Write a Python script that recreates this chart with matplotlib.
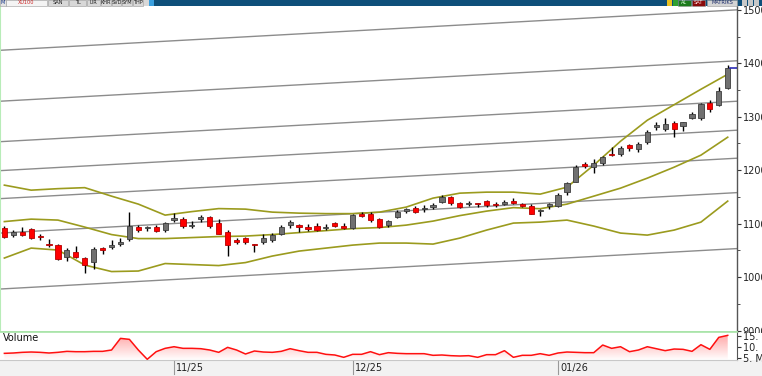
import numpy as np
import matplotlib
matplotlib.use("Agg")
import matplotlib.pyplot as plt
from matplotlib.patches import Rectangle
from matplotlib.colors import LinearSegmentedColormap
from matplotlib import transforms

# ---------------- data ----------------
opens = [10922, 10785, 10836, 10898, 10767, 10617, 10598, 10369, 10462, 10361,
         10286, 10537, 10561, 10617, 10705, 10941, 10911, 10941, 10879, 11066,
         11084, 10959, 11079, 11116, 11015, 10836, 10692, 10724, 10623, 10649,
         10692, 10804, 10972, 10972, 10935, 10959, 10911, 11004, 10954, 10911,
         11172, 11172, 11084, 10972, 11116, 11234, 11296, 11277, 11309, 11408,
         11501, 11378, 11359, 11389, 11421, 11359, 11370, 11421, 11365, 11333,
         11243, 11327, 11337, 11583, 11782, 12112, 12062, 12125, 12312, 12294,
         12468, 12387, 12518, 12809, 12767, 12892, 12828, 12967, 12967, 13266,
         13215, 13546]
highs = [10959, 10879, 10929, 10922, 10798, 10705, 10611, 10537, 10585, 10380,
         10555, 10567, 10692, 10724, 11209, 10972, 10959, 10972, 11034, 11191,
         11128, 11047, 11159, 11146, 11084, 10879, 10735, 10754, 10627, 10798,
         10817, 10972, 11066, 10985, 10985, 11015, 10985, 11034, 11004, 11172,
         11221, 11221, 11109, 11066, 11253, 11296, 11333, 11346, 11378, 11533,
         11520, 11408, 11421, 11393, 11440, 11408, 11440, 11471, 11378, 11359,
         11271, 11383, 11570, 11782, 12094, 12155, 12206, 12262, 12425, 12455,
         12499, 12518, 12748, 12903, 12967, 12916, 12906, 13090, 13253, 13309,
         13557, 13963]
lows = [10735, 10742, 10772, 10705, 10692, 10567, 10318, 10299, 10361, 10069,
        10144, 10430, 10524, 10585, 10679, 10847, 10860, 10847, 10847, 11034,
        10911, 10911, 11034, 10911, 10810, 10393, 10611, 10617, 10473, 10611,
        10660, 10785, 10911, 10847, 10860, 10866, 10873, 10941, 10898, 10892,
        11122, 11034, 10922, 10941, 11097, 11191, 11191, 11221, 11271, 11378,
        11346, 11296, 11333, 11314, 11314, 11314, 11346, 11359, 11303, 11172,
        11141, 11271, 11309, 11533, 11770, 12032, 11939, 12094, 12271, 12267,
        12361, 12342, 12481, 12748, 12729, 12623, 12729, 12953, 12935, 13090,
        13202, 13527]
closes = [10754, 10847, 10785, 10735, 10742, 10593, 10337, 10505, 10380, 10225,
          10518, 10511, 10598, 10649, 10959, 10879, 10916, 10866, 11004, 11109,
          10959, 10978, 11116, 10959, 10810, 10598, 10660, 10649, 10598, 10735,
          10785, 10941, 11023, 10929, 10903, 10885, 10941, 10959, 10916, 11159,
          11141, 11066, 10941, 11047, 11221, 11266, 11221, 11284, 11346, 11501,
          11378, 11314, 11378, 11370, 11346, 11340, 11397, 11378, 11327, 11178,
          11262, 11365, 11542, 11752, 12062, 12081, 12137, 12249, 12281, 12417,
          12406, 12499, 12716, 12841, 12873, 12767, 12903, 13060, 13247, 13153,
          13477, 13912]
volume_m = [6.98, 7.14, 7.44, 7.59, 7.44, 7.14, 7.44, 7.89, 7.74, 7.74,
            7.89, 7.89, 8.5, 13.8, 13.35, 8.5, 4.26, 7.74, 9.26, 10.0,
            9.26, 9.26, 9.1, 8.5, 7.44, 9.71, 8.5, 6.68, 8.05, 7.59,
            7.44, 7.89, 9.1, 8.2, 7.44, 7.44, 6.53, 6.23, 5.17, 6.53,
            6.53, 7.74, 6.38, 7.29, 6.98, 6.83, 6.83, 6.83, 6.08, 6.23,
            5.92, 5.77, 5.92, 5.17, 6.38, 6.38, 8.2, 5.17, 6.08, 6.08,
            6.83, 6.08, 7.14, 7.59, 7.44, 7.29, 7.29, 10.77, 9.26, 10.0,
            7.74, 8.5, 10.0, 9.1, 8.2, 8.95, 8.8, 7.89, 10.92, 8.8,
            14.26, 15.17]

band_idx = list(range(0, 82, 3))
upper_band = [11720, 11626, 11654, 11673, 11514, 11365, 11159, 11225, 11281, 11271,
              11215, 11196, 11187, 11187, 11215, 11309, 11477, 11570, 11589, 11589,
              11552, 11682, 12094, 12542, 12935, 13225, 13514, 13795]
middle_band = [11038, 11084, 11066, 10935, 10795, 10720, 10720, 10739, 10758, 10767,
               10795, 10832, 10869, 10907, 10926, 10972, 11047, 11150, 11234, 11299,
               11279, 11365, 11514, 11664, 11851, 12056, 12281, 12617]
lower_band = [10356, 10542, 10505, 10225, 10103, 10113, 10253, 10234, 10215, 10271,
              10393, 10486, 10542, 10598, 10636, 10636, 10617, 10729, 10879, 11010,
              11028, 11066, 10954, 10823, 10785, 10879, 11028, 11421]

channel_start = [14243, 13290, 12533, 11991, 11467, 10823, 9776]
channel_end = [15000, 14047, 13290, 12748, 12224, 11580, 10533]

month_ticks = [19, 39, 62]
month_labels = ["11/25", "12/25", "01/26"]
price_ticks = [9000, 10000, 11000, 12000, 13000, 14000, 15000]
vol_ticks = [5, 10, 15]
vol_labels = ["5. M", "10. M", "15. M"]

# ---------------- layout ----------------
W, H = 762, 376
fig = plt.figure(figsize=(W / 100, H / 100), dpi=100)
fig.patch.set_facecolor("white")


def fr(x0, y0, x1, y1):
    return [x0 / W, 1 - y1 / H, (x1 - x0) / W, (y1 - y0) / H]


XMIN, XMAX = -0.49, 82.04
ax = fig.add_axes(fr(0, 6, 737, 332))
axv = fig.add_axes(fr(0, 332, 737, 360))
ax.set_zorder(0)
axv.set_zorder(2)

n = len(closes)
x = np.arange(n)

# channel lines
for s, e in zip(channel_start, channel_end):
    ax.plot([XMIN, XMAX], [s, e], color="#8c8c8c", lw=1.0, zorder=1)

# bollinger bands
for band in (upper_band, middle_band, lower_band):
    ax.plot(band_idx, band, color="#9b9b1e", lw=1.2, zorder=2)

# candles
bw = 0.58
for i in range(n):
    o, h, l, c = opens[i], highs[i], lows[i], closes[i]
    ax.plot([i, i], [l, h], color="black", lw=1.0, zorder=3, solid_capstyle="butt")
    up = c >= o
    fc = "#707070" if up else "#ff0000"
    ec = "#3c3c3c" if up else "#b40000"
    bottom = min(o, c)
    height = max(abs(c - o), 18)
    ax.add_patch(Rectangle((i - bw / 2, bottom), bw, height, facecolor=fc,
                           edgecolor=ec, lw=0.6, zorder=4))

# last price marker
ax.plot([n - 1 + 0.3, XMAX], [closes[-1], closes[-1]], color="#2a2ab4", lw=1.2, zorder=5)

ax.set_xlim(XMIN, XMAX)
ax.set_ylim(8972, 15072)
ax.yaxis.tick_right()
ax.set_yticks(price_ticks)
ax.set_yticklabels([str(t) for t in price_ticks])
ax.set_yticks(np.arange(9500, 15000, 1000), minor=True)
ax.tick_params(axis="y", which="major", length=3, width=0.8, colors="#333333",
               labelsize=7, pad=1, labelcolor="#222222")
ax.tick_params(axis="y", which="minor", length=2, width=0.6, colors="#333333")
ax.set_xticks([])
ax.spines["top"].set_visible(False)
ax.spines["right"].set_color("#555555")
ax.spines["right"].set_linewidth(1.0)
ax.spines["left"].set_color("#b8ecb8")
ax.spines["bottom"].set_color("#a8e4a8")
ax.spines["bottom"].set_linewidth(1.2)

# white cover over the right margin of the volume panel (hides the 9000 label tail)
fig.patches.append(Rectangle((737 / W, 1 - 360 / H), 25 / W, 27.5 / H,
                             transform=fig.transFigure, facecolor="white",
                             edgecolor="none", zorder=1))

# ---------------- volume panel ----------------
VMIN, VMAX = 3.95, 16.7
poly = axv.fill_between(x, volume_m, VMIN, color="none", lw=0)
cmap = LinearSegmentedColormap.from_list("vg", ["#ffffff", "#ffa8a8"])
grad = np.linspace(1, 0, 256).reshape(-1, 1)
im = axv.imshow(grad, extent=[XMIN, XMAX, VMIN, max(volume_m)], aspect="auto",
                cmap=cmap, origin="upper", vmin=0, vmax=1, zorder=1)
im.set_clip_path(poly.get_paths()[0], transform=axv.transData)
axv.plot(x, volume_m, color="#ff1010", lw=1.1, zorder=3)
axv.set_xlim(XMIN, XMAX)
axv.set_ylim(VMIN, VMAX)
axv.yaxis.tick_right()
axv.set_yticks(vol_ticks)
axv.set_yticklabels(vol_labels)
axv.tick_params(axis="y", length=3, width=0.8, colors="#333333", labelsize=7, pad=1,
                labelcolor="#222222")
axv.set_xticks([])
axv.spines["top"].set_color("#a8e4a8")
axv.spines["top"].set_linewidth(1.2)
axv.spines["left"].set_visible(False)
axv.spines["right"].set_color("#555555")
axv.spines["bottom"].set_color("#c8c8c8")
axv.text(0.004, 0.80, "Volume", transform=axv.transAxes, fontsize=7,
         color="#111111", va="center", ha="left")

# ---------------- date strip ----------------
fig.patches.append(Rectangle((0, 0), 1, 16 / H, transform=fig.transFigure,
                             facecolor="#f2f2f2", edgecolor="none", zorder=0))
bt = transforms.blended_transform_factory(axv.transData, fig.transFigure)
for t, lab in zip(month_ticks, month_labels):
    fig.lines.append(plt.Line2D([t, t], [1 - 361 / H, 1 - 374 / H], transform=bt,
                                color="#999999", lw=0.8))
    fig.text(t + 0.25, 1 - 368 / H, lab, transform=bt, fontsize=7, color="#222222",
             ha="left", va="center")

# ---------------- toolbar ----------------
fig.patches.append(Rectangle((0, 1 - 6 / H), 1, 6 / H, transform=fig.transFigure,
                             facecolor="#0e4f7a", edgecolor="none", zorder=0))
fig.patches.append(Rectangle((0, 1 - 6 / H), 153 / W, 6 / H, transform=fig.transFigure,
                             facecolor="#e4e4e4", edgecolor="none", zorder=1))
btns = [("M", 0, 6, "#e4e4e4", "#113388"), ("XU100", 6, 47, "#f4f4f4", "#cc2222"),
        ("SAN", 48, 68, "#d8d8d8", "#222222"), ("TL", 69, 86, "#d8d8d8", "#222222"),
        ("LIR", 87, 100, "#d8d8d8", "#222222"), ("KHR", 101, 111, "#d8d8d8", "#222222"),
        ("SVD", 112, 121, "#d8d8d8", "#222222"), ("SYM", 122, 132, "#d8d8d8", "#222222"),
        ("THP", 133, 143, "#d8d8d8", "#222222"), ("AL", 678, 691, "#1c7a1c", "#e0ffe0"),
        ("SAT", 692, 705, "#8a0a0a", "#ffe0e0"), ("MATRIKS", 707, 737, "#d4d4d4", "#1a2a6a")]
for lab, x0, x1, fc, tc in btns:
    fig.patches.append(Rectangle((x0 / W, 1 - 5.5 / H), (x1 - x0) / W, 5.5 / H,
                                 transform=fig.transFigure, facecolor=fc,
                                 edgecolor="#9a9a9a", lw=0.4, zorder=2))
    fig.text((x0 + x1) / 2 / W, 1 - 3 / H, lab, fontsize=3.6, color=tc, ha="center",
             va="center", zorder=3)
for x0, fc in ((144, "#d8d8d8"), (149, "#3aa0e0"), (667, "#e8c020"), (673, "#30a030"),
               (742, "#c8c8c8"), (748, "#c8c8c8"), (754, "#c8c8c8")):
    fig.patches.append(Rectangle((x0 / W, 1 - 5.5 / H), 4.5 / W, 5 / H,
                                 transform=fig.transFigure, facecolor=fc,
                                 edgecolor="none", zorder=2))

fig.savefig("out.png", dpi=100)
